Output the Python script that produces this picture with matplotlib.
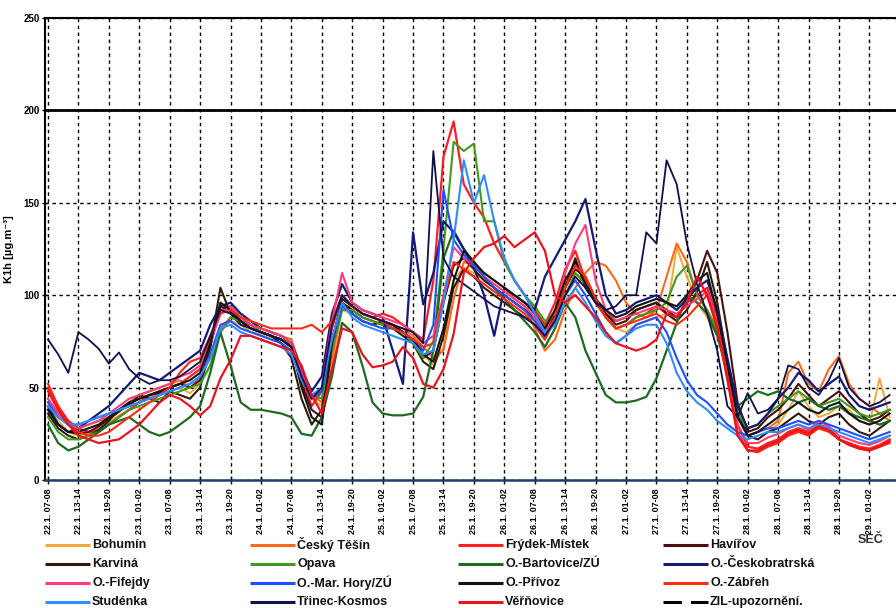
import numpy as np
import matplotlib.pyplot as plt
from matplotlib.lines import Line2D

plt.rcParams['font.family'] = ['Liberation Sans', 'DejaVu Sans']
plt.rcParams['font.weight'] = 'bold'

# hourly means every 2 hours, starting 22.1. 07-08
hours = np.arange(0, 168, 2)

tick_pos = np.arange(0, 168, 6)
tick_labels = ['22.1. 07-08', '22.1. 13-14', '22.1. 19-20', '23.1. 01-02',
               '23.1. 07-08', '23.1. 13-14', '23.1. 19-20', '24.1. 01-02',
               '24.1. 07-08', '24.1. 13-14', '24.1. 19-20', '25.1. 01-02',
               '25.1. 07-08', '25.1. 13-14', '25.1. 19-20', '26.1. 01-02',
               '26.1. 07-08', '26.1. 13-14', '26.1. 19-20', '27.1. 01-02',
               '27.1. 07-08', '27.1. 13-14', '27.1. 19-20', '28.1. 01-02',
               '28.1. 07-08', '28.1. 13-14', '28.1. 19-20', '29.1. 01-02']

bohumin = [40, 32, 26, 24, 25, 28, 31, 35, 38, 42, 45, 46,
           48, 50, 47, 52, 62, 80, 86, 84, 80, 79, 77, 74,
           70, 58, 44, 40, 62, 92, 90, 86, 84, 85, 83, 80,
           75, 68, 62, 72, 108, 115, 112, 108, 104, 100, 96, 92,
           86, 78, 84, 98, 112, 108, 98, 88, 82, 80, 84, 86,
           88, 90, 126, 110, 96, 88, 78, 62, 38, 24, 22, 26,
           30, 38, 48, 40, 34, 36, 40, 38, 32, 30, 55, 34]
cesky_tesin = [44, 36, 30, 28, 30, 32, 34, 38, 42, 46, 48, 50,
               52, 54, 50, 55, 66, 82, 88, 86, 84, 82, 80, 78,
               76, 60, 46, 42, 66, 94, 94, 90, 88, 86, 84, 82,
               78, 72, 66, 70, 98, 118, 116, 112, 108, 104, 98, 94,
               82, 70, 76, 92, 104, 112, 118, 116, 108, 96, 90, 88,
               92, 110, 128, 118, 100, 92, 82, 60, 34, 24, 26, 28,
               32, 58, 64, 52, 48, 60, 67, 52, 44, 40, 36, 32]
frydek = [50, 40, 32, 28, 26, 27, 30, 34, 38, 42, 46, 48,
          50, 52, 56, 60, 76, 92, 94, 88, 84, 80, 78, 76,
          72, 56, 40, 48, 82, 100, 94, 90, 88, 90, 88, 84,
          80, 76, 108, 175, 194, 160, 150, 142, 128, 118, 108, 100,
          92, 84, 96, 114, 124, 108, 96, 88, 82, 84, 88, 90,
          94, 90, 88, 96, 100, 104, 88, 62, 30, 18, 17, 20,
          22, 26, 28, 26, 30, 28, 22, 20, 18, 17, 19, 22]
havirov = [38, 30, 26, 25, 26, 29, 33, 37, 41, 44, 46, 47,
           50, 52, 50, 54, 72, 94, 92, 86, 82, 80, 78, 76,
           72, 52, 38, 34, 72, 96, 90, 86, 84, 86, 84, 80,
           76, 66, 70, 96, 116, 120, 114, 108, 104, 100, 96, 92,
           88, 80, 90, 104, 114, 110, 98, 90, 84, 86, 92, 94,
           96, 92, 88, 96, 108, 124, 112, 80, 42, 26, 28, 34,
           38, 44, 52, 46, 40, 44, 48, 42, 36, 32, 34, 38]
karvina = [36, 28, 24, 22, 24, 27, 32, 38, 40, 46, 44, 42,
           48, 46, 44, 50, 72, 104, 90, 84, 82, 80, 78, 74,
           66, 44, 30, 38, 76, 96, 92, 88, 86, 84, 82, 78,
           74, 64, 60, 78, 104, 114, 110, 104, 100, 96, 92, 88,
           84, 76, 88, 104, 120, 104, 96, 90, 86, 88, 92, 94,
           96, 90, 86, 92, 102, 118, 96, 64, 36, 24, 22, 26,
           28, 32, 36, 32, 30, 34, 36, 30, 26, 24, 28, 32]
opava = [34, 26, 22, 22, 24, 26, 30, 34, 38, 40, 42, 44,
         46, 48, 50, 52, 62, 80, 88, 86, 84, 80, 78, 76,
         74, 60, 46, 44, 70, 92, 92, 88, 86, 84, 82, 80,
         74, 66, 75, 125, 183, 178, 182, 140, 140, 118, 108, 100,
         94, 86, 90, 100, 112, 106, 98, 88, 82, 84, 88, 90,
         92, 96, 110, 116, 100, 92, 80, 58, 36, 28, 30, 36,
         40, 44, 48, 44, 40, 42, 44, 40, 36, 34, 36, 38]
bartovice = [30, 20, 16, 18, 22, 26, 30, 32, 34, 30, 26, 24,
             26, 30, 34, 40, 58, 80, 62, 42, 38, 38, 37, 36,
             34, 25, 24, 34, 56, 85, 80, 62, 42, 36, 35, 35,
             36, 45, 70, 120, 135, 125, 118, 110, 104, 98, 92, 86,
             80, 72, 82, 96, 88, 70, 58, 46, 42, 42, 43, 45,
             55, 70, 85, 100, 96, 90, 78, 58, 40, 44, 48, 46,
             48, 44, 42, 44, 40, 38, 40, 36, 34, 32, 30, 32]
ceskobratrska = [40, 30, 26, 28, 32, 36, 40, 46, 52, 58, 56, 54,
                 58, 62, 66, 70, 84, 94, 96, 90, 86, 82, 80, 78,
                 74, 60, 48, 56, 90, 106, 96, 92, 90, 88, 70, 52,
                 134, 95, 112, 140, 134, 125, 115, 100, 78, 104, 100, 96,
                 92, 110, 120, 130, 140, 152, 125, 100, 90, 92, 96, 98,
                 100, 96, 92, 98, 104, 108, 92, 66, 40, 28, 30, 36,
                 44, 50, 58, 54, 48, 52, 56, 46, 40, 38, 40, 42]
fifejdy = [44, 36, 30, 28, 30, 32, 36, 40, 44, 46, 48, 50,
           52, 56, 58, 62, 74, 90, 94, 88, 84, 82, 80, 78,
           74, 58, 44, 50, 86, 112, 96, 92, 90, 88, 86, 84,
           80, 74, 78, 100, 126, 120, 116, 110, 106, 102, 98, 94,
           88, 80, 92, 112, 128, 138, 108, 92, 86, 88, 90, 92,
           94, 92, 90, 94, 98, 102, 86, 56, 30, 20, 20, 23,
           25, 28, 30, 27, 32, 29, 24, 22, 20, 19, 21, 24]
mar_hory = [42, 34, 30, 30, 32, 34, 36, 38, 40, 42, 44, 46,
            48, 50, 52, 56, 68, 84, 86, 82, 80, 78, 76, 74,
            70, 56, 44, 48, 74, 94, 90, 86, 84, 82, 82, 80,
            76, 70, 84, 157, 130, 122, 116, 110, 104, 100, 96, 92,
            86, 78, 86, 100, 108, 100, 90, 80, 74, 78, 84, 86,
            88, 80, 66, 54, 46, 42, 36, 30, 26, 24, 26, 28,
            28, 30, 32, 30, 32, 30, 28, 26, 24, 22, 24, 26]
privoz = [38, 30, 26, 26, 28, 30, 34, 38, 42, 44, 46, 48,
          50, 52, 54, 58, 74, 96, 92, 86, 82, 80, 78, 76,
          72, 50, 34, 30, 74, 98, 94, 90, 88, 86, 84, 80,
          76, 68, 64, 82, 108, 124, 118, 112, 108, 104, 100, 96,
          90, 82, 92, 108, 118, 106, 98, 92, 88, 90, 94, 96,
          98, 96, 94, 100, 108, 112, 90, 62, 34, 24, 26, 30,
          34, 38, 42, 38, 36, 40, 42, 36, 32, 30, 32, 36]
zabreh = [52, 40, 30, 26, 24, 24, 26, 30, 34, 38, 42, 46,
          50, 58, 64, 66, 78, 90, 92, 88, 86, 84, 82, 82,
          82, 82, 84, 80, 86, 100, 94, 90, 88, 86, 82, 80,
          76, 72, 74, 98, 118, 114, 110, 106, 102, 98, 94, 90,
          84, 76, 88, 104, 116, 110, 98, 88, 82, 84, 86, 88,
          90, 86, 84, 88, 94, 100, 84, 56, 26, 16, 15, 18,
          20, 24, 26, 24, 28, 26, 22, 19, 17, 16, 18, 20]
studenka = [40, 34, 30, 30, 32, 34, 36, 38, 40, 42, 44, 46,
            48, 50, 52, 56, 66, 82, 84, 80, 78, 76, 74, 72,
            68, 54, 46, 50, 76, 96, 88, 84, 82, 80, 78, 76,
            74, 68, 70, 96, 130, 173, 150, 165, 140, 120, 108, 100,
            90, 80, 84, 96, 104, 96, 86, 78, 74, 78, 82, 84,
            84, 74, 58, 48, 42, 38, 32, 28, 24, 22, 24, 26,
            26, 28, 30, 28, 30, 28, 26, 24, 22, 20, 22, 24]
trinec = [76, 68, 58, 80, 76, 71, 63, 69, 60, 55, 52, 54,
          54, 56, 60, 64, 78, 92, 90, 86, 82, 80, 78, 76,
          72, 56, 44, 50, 84, 100, 94, 90, 88, 86, 84, 82,
          80, 74, 178, 120, 110, 106, 102, 98, 94, 92, 90, 88,
          84, 78, 86, 100, 110, 104, 96, 92, 94, 100, 100, 134,
          128, 173, 160, 128, 106, 90, 70, 40, 34, 47, 36, 38,
          44, 62, 60, 50, 46, 54, 66, 50, 44, 40, 42, 46]
vernovice = [48, 38, 30, 24, 22, 20, 21, 22, 26, 30, 36, 42,
             46, 44, 40, 35, 40, 55, 65, 78, 78, 76, 74, 72,
             70, 62, 46, 36, 60, 82, 80, 68, 61, 62, 64, 72,
             66, 52, 50, 60, 79, 112, 120, 126, 128, 132, 126, 130,
             134, 124, 100, 96, 100, 94, 88, 80, 74, 72, 70, 72,
             76, 90, 88, 96, 110, 100, 82, 54, 24, 16, 16, 19,
             21, 25, 27, 25, 29, 27, 22, 19, 17, 16, 18, 21]

zil_limit = 200

stations = [
    ('Bohumín', bohumin, '#f2a93b', 1.4),
    ('Český Těšín', cesky_tesin, '#ff6a1a', 1.5),
    ('Frýdek-Místek', frydek, '#ff1f1f', 1.6),
    ('Havířov', havirov, '#4a1010', 1.5),
    ('Karviná', karvina, '#2e1a0c', 1.5),
    ('Opava', opava, '#3f9a1e', 1.5),
    ('O.-Bartovice/ZÚ', bartovice, '#1e6a22', 1.6),
    ('O.-Českobratrská', ceskobratrska, '#141a78', 1.6),
    ('O.-Fifejdy', fifejdy, '#ff3c7a', 1.5),
    ('O.-Mar. Hory/ZÚ', mar_hory, '#1f4fff', 1.5),
    ('O.-Přívoz', privoz, '#141414', 1.5),
    ('O.-Zábřeh', zabreh, '#ff2a10', 1.5),
    ('Studénka', studenka, '#2f8dff', 1.5),
    ('Třinec-Kosmos', trinec, '#10104a', 1.3),
    ('Věřňovice', vernovice, '#e8141e', 1.6),
]

fig = plt.figure(figsize=(8.96, 6.08), dpi=100)
ax = fig.add_axes([0.0502, 0.2105, 0.9498, 0.760])

for name, vals, color, lw in stations:
    ax.plot(hours, vals, color=color, lw=lw)

ax.axhline(zil_limit, color='black', lw=2, zorder=5)

ax.set_xlim(-0.6, 167.25)
ax.set_ylim(0, 250)
ax.set_yticks([0, 50, 100, 150, 200, 250])
ax.set_xticks(tick_pos)
ax.set_xticklabels(tick_labels, rotation=90, fontsize=6.5)
ax.tick_params(axis='y', labelsize=7, length=4, direction='inout', width=1, pad=2)
ax.tick_params(axis='x', length=6, direction='inout', width=1, pad=3)
ax.grid(True, color='black', lw=1, ls=(0, (2.5, 2.5)))
ax.set_axisbelow(True)

ax.spines['right'].set_visible(False)
ax.spines['left'].set_linewidth(1.5)
ax.spines['top'].set_linewidth(1.5)
ax.spines['bottom'].set_linewidth(1.8)
ax.spines['bottom'].set_color('#1c3f73')

ax.set_ylabel('K1h [µg.m⁻³]', fontsize=8, fontweight='bold')
ax.yaxis.set_label_coords(-0.036, 0.5)

# legend drawn by hand: 4 columns x 4 rows, row-major order
legend_items = [(s[0], s[2], 'solid') for s in stations]
legend_items.append(('ZIL-upozornění.', 'black', 'dashed'))
col_x = [45, 250, 458, 663]
row_y = [545, 564, 583, 602]
W, H = 896, 608
for k, (label, color, style) in enumerate(legend_items):
    r, c = divmod(k, 4)
    x0 = col_x[c] / W
    x1 = (col_x[c] + 45) / W
    y = 1 - row_y[r] / H
    ln = Line2D([x0, x1], [y, y], transform=fig.transFigure, color=color,
                lw=2.2, solid_capstyle='butt')
    if style == 'dashed':
        ln.set_dashes((6, 3))
    fig.add_artist(ln)
    fig.text(x1 + 2 / W, y, label, fontsize=9, fontweight='bold',
             ha='left', va='center', color='#111111')

fig.text(0.972, 0.112, 'SEČ', fontsize=9, fontweight='bold', color='#333333',
         ha='center', va='center')

fig.savefig('out.png', dpi=100)
plt.close()
